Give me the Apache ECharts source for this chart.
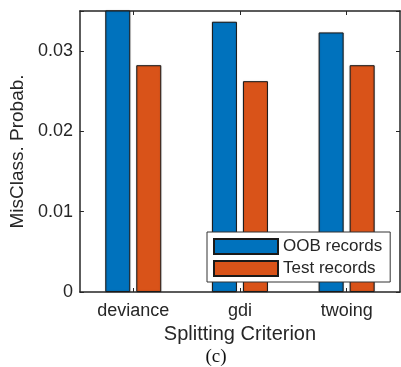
<!DOCTYPE html>
<html>
<head>
<meta charset="utf-8">
<script src="https://cdn.jsdelivr.net/npm/echarts@6/dist/echarts.min.js"></script>
<style>
  html, body { margin: 0; padding: 0; background: #fff; }
  #chart { width: 401px; height: 367px; }
</style>
</head>
<body>
<div id="chart"></div>
<script>
// Misclassification probability per splitting criterion
const criteria = ['deviance', 'gdi', 'twoing'];
const oobRecords = [0.0355, 0.03366, 0.03233];
const testRecords = [0.02825, 0.02626, 0.02825];
const yTicks = [0, 0.01, 0.02, 0.03];

const FONT = '"Liberation Sans", Arial, Helvetica, sans-serif';
const INK = '#262626';

const chart = echarts.init(document.getElementById('chart'), null, { renderer: 'canvas' });

const yAxisBase = {
  type: 'value',
  min: 0,
  max: 0.035,
  interval: 0.01,
  splitLine: { show: false },
  axisLine: { show: true, lineStyle: { color: INK, width: 1.5 } },
  axisTick: { show: true, inside: true, length: 4, lineStyle: { color: INK, width: 1 } }
};

chart.setOption({
  animation: false,
  backgroundColor: '#fff',
  grid: { left: 78, top: 11, right: 1, bottom: 75, containLabel: false },
  legend: {
    orient: 'vertical',
    left: 207,
    top: 232,
    padding: [6, 8, 5, 6],
    itemWidth: 64,
    itemHeight: 15,
    itemGap: 5,
    backgroundColor: '#fff',
    borderColor: '#333',
    borderWidth: 1,
    borderRadius: 0,
    icon: 'rect',
    textStyle: { fontFamily: FONT, fontSize: 17, lineHeight: 15, color: INK, padding: [0, 0, 0, 0] },
    data: ['OOB records', 'Test records']
  },
  xAxis: [
    {
      type: 'category',
      data: criteria,
      position: 'bottom',
      boundaryGap: true,
      axisLine: { show: true, onZero: false, lineStyle: { color: INK, width: 1.5 } },
      axisTick: { show: true, inside: true, alignWithLabel: true, length: 4, lineStyle: { color: INK } },
      axisLabel: { fontFamily: FONT, fontSize: 18, color: INK, margin: 10 },
      name: 'Splitting Criterion',
      nameLocation: 'middle',
      nameGap: 29,
      nameTextStyle: { fontFamily: FONT, fontSize: 20, color: INK }
    },
    {
      type: 'category',
      data: criteria,
      position: 'top',
      boundaryGap: true,
      axisLine: { show: true, onZero: false, lineStyle: { color: INK, width: 1.5 } },
      axisTick: { show: true, inside: true, alignWithLabel: true, length: 4, lineStyle: { color: INK } },
      axisLabel: { show: false }
    }
  ],
  yAxis: [
    Object.assign({}, yAxisBase, {
      position: 'left',
      axisLabel: {
        fontFamily: FONT, fontSize: 18, color: INK, margin: 7,
        formatter: v => (yTicks.indexOf(+v.toFixed(2)) >= 0 ? (v === 0 ? '0' : v.toFixed(2)) : '')
      },
      name: 'MisClass. Probab.',
      nameLocation: 'middle',
      nameGap: 52,
      nameRotate: 90,
      nameTextStyle: { fontFamily: FONT, fontSize: 19, color: INK }
    }),
    Object.assign({}, yAxisBase, {
      position: 'right',
      axisLabel: { show: false }
    })
  ],
  graphic: [
    {
      type: 'text',
      x: 216,
      y: 357,
      style: {
        text: '(c)',
        font: '19px "Liberation Serif", "Times New Roman", serif',
        fill: '#111',
        align: 'center',
        verticalAlign: 'middle'
      }
    }
  ],
  series: [
    {
      name: 'OOB records',
      type: 'bar',
      data: oobRecords,
      barWidth: 25,
      barGap: '24%',
      clip: true,
      itemStyle: {
        color: '#0072BD', borderColor: '#1a1a1a', borderWidth: 1,
        shadowColor: 'rgba(0,0,0,0.25)', shadowBlur: 1.5
      }
    },
    {
      name: 'Test records',
      type: 'bar',
      data: testRecords,
      barWidth: 25,
      barGap: '24%',
      clip: true,
      itemStyle: {
        color: '#D95319', borderColor: '#1a1a1a', borderWidth: 1,
        shadowColor: 'rgba(0,0,0,0.25)', shadowBlur: 1.5
      }
    }
  ]
});
</script>
</body>
</html>
